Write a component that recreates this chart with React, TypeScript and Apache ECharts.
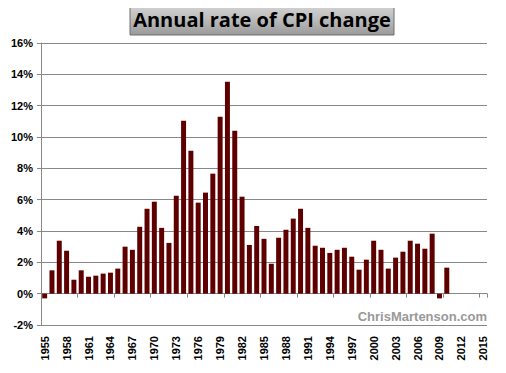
import React, { useEffect, useRef } from "react";
import * as echarts from "echarts";

const years: string[] = [];
for (let y = 1955; y <= 2015; y++) years.push(String(y));

const cpiChange: (number | null)[] = [
  -0.3, 1.49, 3.38, 2.74, 0.89, 1.49, 1.08, 1.15, 1.28, 1.34,
  1.6, 3.0, 2.8, 4.27, 5.42, 5.87, 4.2, 3.24, 6.25, 11.04,
  9.13, 5.81, 6.45, 7.66, 11.3, 13.53, 10.4, 6.19, 3.11, 4.32,
  3.5, 1.91, 3.57, 4.08, 4.79, 5.42, 4.2, 3.06, 2.93, 2.6,
  2.8, 2.93, 2.36, 1.53, 2.17, 3.38, 2.8, 1.6, 2.3, 2.68,
  3.38, 3.19, 2.87, 3.83, -0.3, 1.66, null, null, null, null, null,
];

const titleText = "Annual rate of CPI change";
const watermark = "ChrisMartenson.com";

export default function App() {
  const ref = useRef<HTMLDivElement>(null);
  useEffect(() => {
    if (!ref.current) return;
    const chart = echarts.init(ref.current, null, { renderer: "svg" });
    chart.setOption({
      animation: false,
      backgroundColor: "#ffffff",
      grid: { left: 41, right: 19, top: 43, bottom: 48, containLabel: false },
      graphic: [
        {
          type: "rect",
          shape: { x: 130, y: 2, width: 264, height: 33 },
          style: {
            fill: new echarts.graphic.LinearGradient(0, 0, 0, 1, [
              { offset: 0, color: "#d8d8d8" },
              { offset: 0.5, color: "#bdbdbd" },
              { offset: 1, color: "#9a9a9a" },
            ]),
            stroke: "#6e6e6e",
            lineWidth: 1,
          },
        },
        {
          type: "text",
          x: 262,
          y: 19,
          style: {
            text: titleText,
            fill: "#000000",
            font: "bold 20px 'Open Sans', sans-serif",
            textAlign: "center",
            textVerticalAlign: "middle",
          },
        },
        {
          type: "text",
          right: 19,
          top: 310,
          style: {
            text: watermark,
            fill: "#999999",
            font: "bold 13px 'Liberation Sans', Arial, sans-serif",
          },
        },
      ],
      xAxis: [
        {
          type: "category",
          data: years,
          axisLine: { onZero: true, lineStyle: { color: "#888888", width: 1 } },
          axisTick: { show: true, length: 4, alignWithLabel: false, lineStyle: { color: "#888888" } },
          axisLabel: { show: false },
          splitLine: { show: false },
        },
        {
          type: "category",
          data: years,
          position: "bottom",
          axisLine: { show: false, onZero: false },
          axisTick: { show: false },
          axisLabel: {
            show: true,
            interval: 2,
            rotate: 90,
            margin: 11,
            color: "#000000",
            fontWeight: "bold",
            fontSize: 11,
            fontFamily: "'Liberation Sans', Arial, sans-serif",
          },
        },
      ],
      yAxis: {
        type: "value",
        min: -2,
        max: 16,
        interval: 2,
        axisLine: { show: true, lineStyle: { color: "#888888" } },
        axisTick: { show: true, length: 4, lineStyle: { color: "#888888" } },
        axisLabel: {
          formatter: "{value}%",
          color: "#000000",
          fontWeight: "bold",
          fontSize: 11,
          fontFamily: "'Liberation Sans', Arial, sans-serif",
          margin: 8,
        },
        splitLine: { show: true, lineStyle: { color: "#888888", width: 1 } },
      },
      series: [
        {
          type: "bar",
          xAxisIndex: 0,
          data: cpiChange,
          barCategoryGap: "32%",
          itemStyle: { color: "#5e0000" },
        },
      ],
    });
    return () => chart.dispose();
  }, []);
  return <div ref={ref} style={{ width: 506, height: 373, marginLeft: -8, marginTop: -8 }} />;
}
